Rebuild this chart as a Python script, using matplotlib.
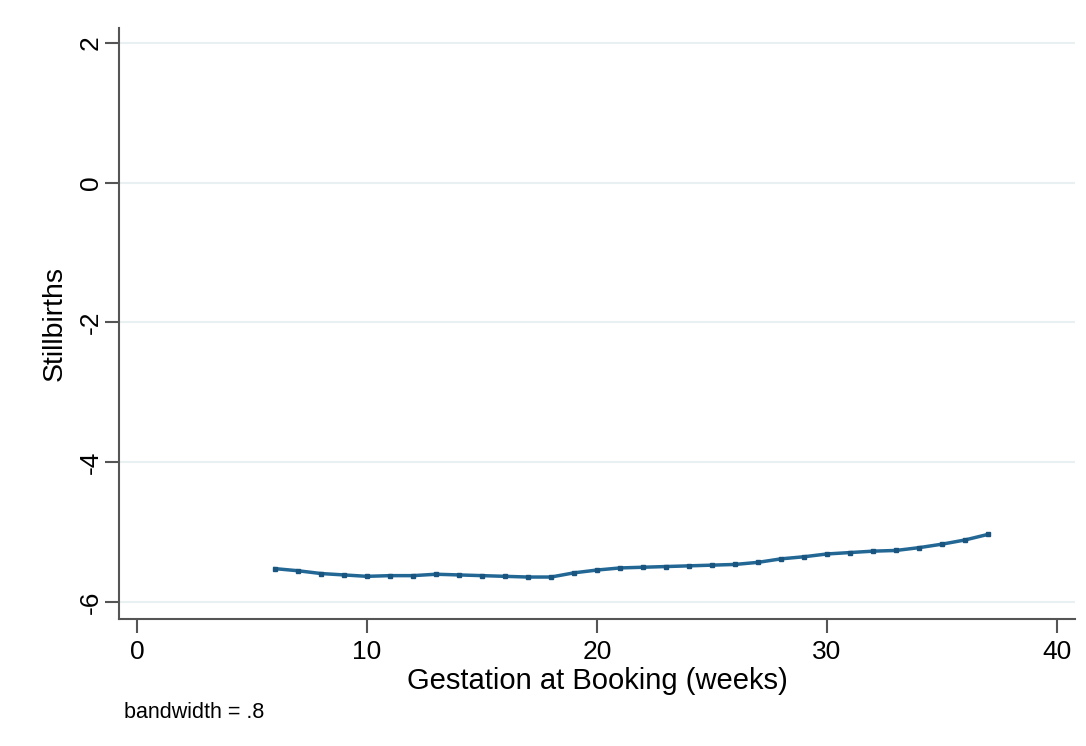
import matplotlib
matplotlib.use("Agg")
import matplotlib.pyplot as plt

# Data
weeks = [6, 7, 8, 9, 10, 11, 12, 13, 14, 15, 16, 17, 18, 19, 20, 21,
         22, 23, 24, 25, 26, 27, 28, 29, 30, 31, 32, 33, 34, 35, 36, 37]
stillbirths = [-5.52, -5.55, -5.59, -5.61, -5.63, -5.62, -5.62, -5.60, -5.61,
               -5.62, -5.63, -5.64, -5.64, -5.58, -5.54, -5.51, -5.50, -5.49,
               -5.48, -5.47, -5.46, -5.43, -5.38, -5.35, -5.31, -5.29, -5.27,
               -5.26, -5.22, -5.17, -5.11, -5.03]
xticks = [0, 10, 20, 30, 40]
yticks = [-6, -4, -2, 0, 2]

plt.rcParams['font.family'] = ['Liberation Sans', 'DejaVu Sans']

fig = plt.figure(figsize=(10.86, 7.46), dpi=100)
ax = fig.add_axes([119/1086, 1 - 619/746, (1075 - 119)/1086, (619 - 28)/746])

line_color = '#236795'
ax.plot(weeks, stillbirths, color=line_color, lw=2.5, marker='s', ms=3.2,
        mec='#1a5580', mfc='#1a5580', zorder=3)

ax.set_xlim(-0.78, 40.78)
ax.set_ylim(-6.24, 2.21)
ax.set_xticks(xticks)
ax.set_yticks(yticks)
ax.set_yticklabels([str(v) for v in yticks], rotation=90, va='center')
ax.grid(axis='y', color='#e8f0f2', lw=1.5, zorder=0)
ax.set_axisbelow(True)

for s in ['top', 'right']:
    ax.spines[s].set_visible(False)
for s in ['left', 'bottom']:
    ax.spines[s].set_color('#555555')
    ax.spines[s].set_linewidth(1.5)

ax.tick_params(axis='both', direction='out', length=10, width=1.5,
               color='#555555', labelsize=19, labelcolor='black')
ax.tick_params(axis='x', pad=5)
ax.tick_params(axis='y', pad=1.5)

ax.set_xlabel('Gestation at Booking (weeks)', fontsize=21, labelpad=2)
ax.set_ylabel('Stillbirths', fontsize=20.5, labelpad=8)

fig.text(124/1086, 1 - 712/746, 'bandwidth = .8', fontsize=15.5,
         ha='left', va='center')

fig.savefig('out.png', dpi=100, facecolor='white')
